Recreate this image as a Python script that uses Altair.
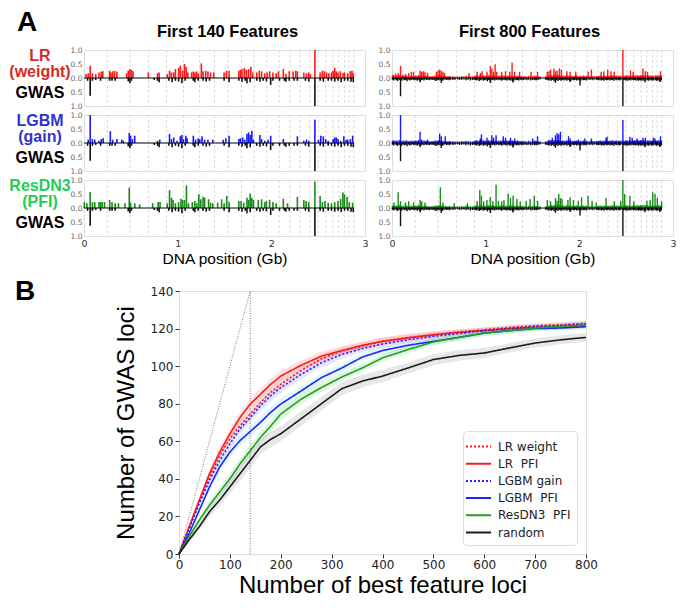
import altair as alt
import pandas as pd

# ------------------------------------------------------------------
# Panel A data  (positions in Mb along the genome, heights 0..1)
# ------------------------------------------------------------------
chrom_end_mb = [249, 492, 690, 882, 1063, 1234, 1393, 1539, 1680, 1816, 1951,
                2085, 2200, 2307, 2410, 2500, 2581, 2659, 2719, 2782, 2830, 2881]

lr140 = [(21, .14), (45, .17), (66, .44), (90, .17), (125, .14), (160, .20), (184, .23), (201, .24),
         (274, .26), (288, .20), (306, .24), (326, .26), (351, .23), (455, .17), (472, .26), (490, .32),
         (507, .29), (524, .24), (687, .20), (785, .17), (802, .20), (889, .14), (913, .26), (934, .20),
         (958, .20), (976, .32), (1010, .36), (1028, .44), (1052, .26), (1073, .50), (1090, .40),
         (1108, .20), (1149, .20), (1167, .23), (1184, .20), (1201, .24), (1219, .17), (1253, .52),
         (1271, .24), (1299, .26), (1323, .23), (1351, .20), (1385, .20), (1496, .20), (1521, .26),
         (1549, .26), (1653, .26), (1670, .29), (1687, .32), (1712, .36), (1733, .29), (1757, .32),
         (1781, .40), (1802, .20), (1844, .20), (1871, .26), (1896, .24), (1930, .17), (1955, .20),
         (1982, .24), (2017, .20), (2052, .17), (2076, .24), (2128, .32), (2156, .14), (2191, .24),
         (2232, .23), (2260, .26), (2278, .24), (2347, .20), (2375, .17), (2399, .20), (2417, .14),
         (2465, 1.0), (2521, .20), (2545, .26), (2566, .24), (2590, .20), (2614, .17), (2642, .20),
         (2660, .26), (2677, .36), (2694, .24), (2712, .20), (2736, .24), (2764, .18), (2781, .20),
         (2816, .17), (2844, .24), (2861, .26), (2875, .17)]

lgbm140 = [(45, .12), (66, 1.0), (90, .14), (115, .12), (160, .08), (184, .14), (205, .17), (281, .42),
           (306, .12), (351, .14), (403, .12), (420, .08), (483, .36), (497, .26), (517, .14), (542, .26),
           (785, .08), (809, .12), (913, .32), (934, .14), (958, .20), (993, .08), (1028, .24), (1045, .29),
           (1062, .14), (1087, .26), (1101, .17), (1167, .26), (1191, .12), (1219, .17), (1236, .14),
           (1260, .24), (1288, .12), (1323, .12), (1375, .12), (1486, .12), (1514, .17), (1549, .26),
           (1653, .14), (1670, .17), (1694, .20), (1715, .12), (1740, .32), (1757, .38), (1774, .29),
           (1792, .44), (1809, .12), (1878, .29), (1896, .14), (1930, .08), (1965, .12), (1993, .26),
           (2128, .14), (2278, .24), (2347, .08), (2375, .12), (2399, .08), (2465, .83), (2503, .12),
           (2528, .26), (2555, .24), (2580, .14), (2607, .08), (2660, .14), (2677, .20), (2694, .20),
           (2712, .14), (2740, .08), (2774, .24), (2798, .12), (2816, .12), (2844, .14), (2868, .26)]

res140 = [(3, .21), (31, .17), (66, .57), (90, .21), (115, .21), (160, .21), (177, .21), (194, .21),
          (219, .21), (274, .29), (299, .21), (333, .17), (368, .17), (437, .17), (483, .73), (497, .19),
          (542, .17), (594, .13), (733, .17), (792, .21), (812, .21), (889, .17), (913, .64), (934, .37),
          (951, .29), (976, .17), (1010, .21), (1035, .33), (1052, .29), (1073, .29), (1094, .81),
          (1115, .17), (1156, .21), (1184, .25), (1205, .17), (1226, .49), (1247, .31), (1271, .40),
          (1288, .37), (1330, .31), (1351, .19), (1375, .17), (1427, .19), (1469, .31), (1496, .17),
          (1524, .43), (1549, .21), (1653, .25), (1677, .25), (1705, .19), (1740, .37), (1757, .29),
          (1774, .52), (1792, .37), (1809, .29), (1861, .29), (1896, .31), (1930, .21), (1948, .25),
          (1982, .29), (2017, .21), (2052, .17), (2128, .33), (2173, .17), (2278, .40), (2347, .29),
          (2371, .25), (2399, .21), (2465, .95), (2521, .43), (2545, .21), (2573, .25), (2607, .19),
          (2642, .17), (2677, .21), (2712, .25), (2740, .33), (2764, .55), (2781, .49), (2809, .40),
          (2833, .21), (2868, .19)]

gwas140 = [(38, .10), (66, .63), (90, .10), (125, .07), (177, .10), (274, .10), (299, .10), (333, .10),
           (472, .12), (490, .19), (507, .10), (750, .07), (785, .10), (802, .15), (906, .10), (941, .15),
           (976, .10), (1010, .13), (1045, .19), (1080, .10), (1167, .10), (1184, .15), (1219, .10),
           (1271, .10), (1305, .13), (1340, .10), (1496, .10), (1549, .15), (1653, .10), (1687, .13),
           (1722, .10), (1740, .19), (1774, .15), (1844, .10), (1878, .13), (1913, .10), (1948, .12),
           (1993, .25), (2017, .10), (2087, .10), (2139, .10), (2156, .13), (2191, .10), (2243, .10),
           (2278, .10), (2364, .10), (2399, .13), (2465, 1.0), (2521, .10), (2555, .13), (2607, .10),
           (2642, .10), (2677, .13), (2712, .10), (2746, .15), (2781, .10), (2816, .10), (2851, .13),
           (2875, .15)]

# dense band of small features in the 800-feature runs: (Mb, feature h x100, GWAS h x100)
base800 = [
    (4, 8, 6), (18, 10, 9), (33, 7, 5), (47, 9, 8), (60, 6, 11), (76, 11, 7), (90, 8, 6), (104, 7, 10),
    (119, 9, 5), (133, 6, 8), (148, 10, 7), (161, 8, 12), (176, 7, 6), (190, 5, 9), (204, 9, 7),
    (219, 6, 5), (233, 8, 8), (245, 7, 6),
    (256, 9, 7), (270, 7, 10), (284, 11, 6), (299, 8, 12), (313, 10, 8), (327, 6, 6), (342, 9, 9),
    (356, 7, 5), (371, 8, 7), (385, 5, 6), (399, 6, 8), (414, 5, 5), (428, 7, 7), (443, 6, 6),
    (457, 8, 9), (471, 9, 11), (486, 7, 8),
    (498, 10, 6), (512, 8, 9), (527, 9, 7), (541, 7, 10), (555, 6, 6), (570, 8, 5), (584, 5, 7),
    (598, 6, 6), (613, 7, 8), (627, 5, 5), (650, 6, 7), (672, 5, 6),
    (700, 6, 5), (722, 5, 7), (745, 7, 6), (768, 6, 5), (790, 8, 8), (812, 7, 6), (836, 6, 9),
    (858, 5, 7), (876, 7, 6),
    (889, 8, 7), (903, 10, 9), (917, 7, 6), (932, 9, 11), (946, 11, 8), (960, 8, 6), (975, 10, 10),
    (989, 7, 7), (1003, 9, 8), (1018, 8, 12), (1032, 10, 7), (1046, 7, 9), (1058, 9, 6),
    (1070, 8, 8), (1084, 10, 6), (1098, 7, 9), (1113, 9, 7), (1127, 6, 5), (1141, 8, 8), (1156, 9, 6),
    (1170, 7, 10), (1184, 10, 7), (1199, 8, 6), (1213, 7, 8), (1228, 9, 9),
    (1241, 7, 6), (1255, 9, 8), (1269, 8, 10), (1284, 10, 7), (1298, 7, 12), (1312, 8, 6),
    (1327, 6, 8), (1341, 9, 7), (1355, 7, 9), (1370, 6, 6), (1386, 8, 8),
    (1402, 6, 7), (1420, 7, 6), (1440, 5, 8), (1460, 8, 6), (1482, 6, 9), (1503, 7, 7), (1522, 9, 8),
    (1535, 6, 6),
    (1546, 7, 8), (1560, 5, 6), (1580, 6, 5), (1640, 5, 6), (1655, 6, 7), (1670, 8, 9),
    (1687, 9, 8), (1701, 10, 10), (1716, 8, 7), (1730, 11, 12), (1744, 9, 9), (1759, 10, 8),
    (1773, 12, 11), (1787, 9, 7), (1802, 8, 10), (1812, 7, 6),
    (1823, 8, 7), (1837, 9, 9), (1851, 7, 6), (1866, 10, 10), (1880, 8, 7), (1894, 9, 8),
    (1909, 7, 11), (1923, 8, 6), (1937, 6, 8), (1947, 7, 7),
    (1958, 8, 6), (1972, 9, 9), (1986, 7, 8), (2001, 6, 7), (2015, 8, 10), (2029, 7, 6), (2044, 9, 8),
    (2058, 6, 7), (2072, 8, 9), (2081, 7, 6),
    (2105, 6, 7), (2125, 8, 6), (2145, 7, 8), (2165, 6, 5), (2185, 7, 7), (2196, 6, 6),
    (2207, 7, 8), (2221, 9, 6), (2235, 8, 9), (2250, 6, 7), (2264, 9, 10), (2278, 7, 6), (2293, 8, 8),
    (2303, 6, 7),
    (2314, 7, 6), (2328, 9, 9), (2342, 8, 7), (2357, 10, 8), (2371, 7, 10), (2385, 8, 6), (2400, 9, 8),
    (2417, 8, 7), (2431, 7, 9), (2445, 9, 6), (2472, 8, 8), (2486, 7, 7), (2496, 9, 9),
    (2507, 10, 8), (2521, 8, 10), (2535, 9, 7), (2550, 7, 9), (2564, 8, 6), (2577, 9, 8),
    (2588, 10, 7), (2602, 8, 9), (2617, 11, 8), (2631, 9, 10), (2645, 8, 7), (2655, 10, 9),
    (2666, 9, 8), (2680, 11, 10), (2694, 8, 7), (2708, 10, 9),
    (2726, 9, 8), (2740, 8, 10), (2754, 10, 7), (2768, 7, 9), (2779, 9, 8),
    (2795, 8, 9), (2815, 10, 8), (2826, 7, 10),
    (2837, 9, 8), (2851, 10, 9), (2865, 8, 11), (2876, 9, 8),
]

lr800 = [(10, .12), (38, .15), (66, .18), (91, .43), (115, .12), (143, .15), (178, .18), (206, .22),
         (230, .22), (300, .27), (317, .22), (334, .24), (352, .22), (380, .18), (474, .22), (491, .27),
         (509, .30), (526, .27), (544, .22), (561, .18), (822, .18), (909, .22), (944, .18), (962, .24),
         (1014, .22), (1049, .43), (1066, .34), (1084, .22), (1101, .49), (1118, .22), (1171, .22),
         (1212, .24), (1258, .22), (1282, .55), (1310, .22), (1362, .22), (1484, .22), (1554, .22),
         (1658, .22), (1676, .24), (1693, .30), (1728, .34), (1745, .24), (1763, .27), (1787, .34),
         (1808, .30), (1867, .24), (1902, .22), (1962, .22), (2094, .22), (2129, .30), (2233, .22),
         (2261, .24), (2303, .30), (2338, .24), (2373, .22), (2465, 1.0), (2547, .27), (2575, .22),
         (2679, .34), (2704, .24), (2728, .22), (2867, .24)]

lgbm800 = [(91, 1.0), (300, .40), (317, .12), (380, .12), (509, .34), (526, .24), (568, .24), (944, .16),
           (955, .31), (1014, .19), (1066, .28), (1084, .19), (1111, .28), (1188, .24), (1212, .19),
           (1265, .19), (1310, .16), (1502, .16), (1554, .24), (1676, .12), (1711, .19), (1745, .28),
           (1763, .36), (1780, .31), (1798, .40), (1885, .24), (1902, .16), (1989, .12), (2059, .16),
           (2129, .16), (2285, .19), (2296, .22), (2465, .82), (2540, .22), (2564, .19), (2616, .16),
           (2679, .19), (2704, .19), (2791, .19), (2808, .16), (2867, .24)]

res800 = [(21, .20), (66, .56), (91, .24), (143, .20), (178, .24), (230, .20), (300, .29), (317, .24),
          (352, .20), (516, .74), (544, .20), (665, .17), (805, .17), (909, .24), (937, .64), (955, .44),
          (979, .24), (1014, .29), (1049, .38), (1077, .24), (1111, .83), (1136, .26), (1171, .24),
          (1195, .29), (1240, .52), (1265, .36), (1293, .44), (1334, .32), (1369, .24), (1432, .26),
          (1474, .32), (1519, .44), (1554, .26), (1658, .29), (1693, .24), (1745, .36), (1763, .26),
          (1780, .50), (1798, .36), (1815, .32), (1878, .29), (1902, .38), (1937, .29), (1989, .26),
          (2024, .38), (2094, .44), (2136, .26), (2181, .20), (2285, .36), (2373, .24), (2442, .26),
          (2465, 1.0), (2484, .50), (2540, .44), (2582, .24), (2721, .26), (2756, .29), (2784, .56),
          (2808, .50), (2833, .36), (2878, .24)]

gwas800 = [(91, .65), (300, .15), (526, .18), (1049, .18), (1290, .16), (1745, .17), (1900, .14),
           (2007, .27), (2465, 1.0), (2700, .15), (2860, .14)]

# ------------------------------------------------------------------
# Panel B data
# ------------------------------------------------------------------
n_best = [0, 20, 40, 60, 80, 100, 120, 140, 160, 180, 200, 240, 280, 320, 360, 400, 450, 500,
          550, 600, 650, 700, 750, 800]
lr_weight = [0, 13.7, 27.8, 41.0, 52.5, 61.3, 68.3, 74.5, 80.6, 86.0, 90.3, 97.7, 104.0, 108.0,
             110.6, 113.2, 115.3, 116.7, 118.2, 119.4, 120.6, 121.5, 122.0, 122.7]
lr_pfi = [0, 14.6, 28.7, 42.8, 54.2, 63.9, 72.7, 79.8, 85.0, 90.3, 94.7, 100.5, 105.3, 108.3,
          111.1, 113.2, 115.0, 116.7, 118.0, 118.9, 120.0, 120.6, 121.0, 121.5]
lgbm_gain = [0, 13.7, 27.0, 39.3, 49.8, 58.6, 66.6, 72.7, 78.9, 84.2, 88.6, 95.6, 101.8, 106.2,
             109.4, 111.8, 114.1, 115.9, 117.4, 118.9, 120.0, 121.0, 121.7, 122.5]
lgbm_pfi = [0, 11.0, 23.4, 35.7, 46.3, 54.2, 60.4, 65.2, 70.0, 75.4, 79.8, 86.8, 93.9, 99.0,
            104.8, 108.3, 111.1, 113.2, 115.3, 117.6, 118.9, 120.0, 120.3, 121.0]
resdn3_pfi = [0, 9.3, 18.0, 26.0, 33.0, 40.0, 48.0, 55.0, 62.0, 68.0, 74.5, 82.4, 88.6, 94.2,
              99.0, 104.4, 108.8, 112.9, 115.3, 117.6, 118.9, 120.3, 121.1, 122.0]
random_sel = [0, 7.6, 14.6, 22.5, 28.7, 35.7, 42.8, 49.8, 57.0, 61.0, 64.0, 72.0, 80.0, 88.0,
              92.0, 94.7, 99.0, 103.5, 105.7, 107.0, 109.7, 112.3, 114.0, 115.3]
sd_model = [0, 1.0, 1.5, 2.0, 2.5, 3.0, 3.0, 3.0, 3.0, 3.0, 3.0, 2.5, 2.5, 2.2, 2.0, 2.0, 2.0,
            1.8, 1.6, 1.5, 1.5, 1.5, 1.5, 1.5]
sd_random = [0, 1.2, 2.0, 2.5, 3.0, 3.5, 3.8, 4.0, 4.0, 4.0, 4.0, 3.8, 3.6, 3.5, 3.4, 3.2, 3.0,
             3.0, 2.8, 2.6, 2.5, 2.5, 2.4, 2.3]

NB2 = '\u00a0\u00a0'  # the legend keeps a double space between model and method
series_order = ['LR weight', 'LR' + NB2 + 'PFI', 'LGBM gain', 'LGBM' + NB2 + 'PFI',
                'ResDN3' + NB2 + 'PFI', 'random']
series_vals = [lr_weight, lr_pfi, lgbm_gain, lgbm_pfi, resdn3_pfi, random_sel]
series_sd = [sd_model, sd_model, sd_model, sd_model, sd_model, sd_random]

# ------------------------------------------------------------------
# helpers
# ------------------------------------------------------------------
LAB_FONT = 'Liberation Sans'
TICK_FONT = 'DejaVu Sans'
W_A, H_A = 281, 56
W_B, H_B = 407, 263

chrom_df = pd.DataFrame({'gb': [m / 1000 for m in chrom_end_mb]})
zero_df = pd.DataFrame({'gb': [0.0], 'gb2': [chrom_end_mb[-1] / 1000], 'v': [0.0]})
one_df = pd.DataFrame({'k': [0]})


def up_df(pairs):
    return pd.DataFrame({'gb': [p[0] / 1000 for p in pairs], 'v': [p[1] for p in pairs]})


def down_df(pairs):
    return pd.DataFrame({'gb': [p[0] / 1000 for p in pairs], 'v': [-p[1] for p in pairs]})


def text_layer(txt, x, y, size, color='black', weight='bold', align='center', baseline='middle'):
    return alt.Chart(one_df).mark_text(
        text=txt, font=LAB_FONT, fontSize=size, fontWeight=weight, color=color,
        align=align, baseline=baseline).encode(x=alt.value(x), y=alt.value(y))


def strip(up, down, color, bottom, bw, label=None, title=None, title_dx=0, letter=None):
    xs = alt.Scale(domain=[0, 3], nice=False, zero=False)
    ys = alt.Scale(domain=[-1, 1], nice=False)
    if bottom:
        xax = alt.Axis(values=[0, 1, 2, 3], format='d', labelFlush=False, ticks=False, domain=False,
                       grid=False, labelFont=TICK_FONT, labelFontSize=9.5, labelColor='#333',
                       labelPadding=2, title='DNA position (Gb)', titleFont=LAB_FONT,
                       titleFontSize=15.5, titleFontWeight='normal', titleColor='black',
                       titlePadding=4)
    else:
        xax = None
    yax = alt.Axis(values=[-1, -0.5, 0, 0.5, 1], labelExpr="format(abs(datum.value), '.1f')",
                   ticks=False, domain=False, grid=False, labelFont=TICK_FONT, labelFontSize=7.5,
                   labelColor='#666', labelPadding=2, title=None)
    X = lambda f: alt.X(f, scale=xs, axis=xax)
    Y = lambda f: alt.Y(f, scale=ys, axis=yax)

    vlines = alt.Chart(chrom_df).mark_rule(color='#d0d0d0', strokeDash=[3, 2], strokeWidth=0.8).encode(
        x=X('gb:Q'))
    ups = alt.Chart(up).mark_rule(color=color, strokeWidth=bw, opacity=0.9).encode(
        x=X('gb:Q'), y=Y('v:Q'), y2=alt.datum(0))
    downs = alt.Chart(down).mark_rule(color='#111111', strokeWidth=bw).encode(
        x=X('gb:Q'), y=Y('v:Q'), y2=alt.datum(0))
    zero = alt.Chart(zero_df).mark_rule(color='black', strokeWidth=1).encode(
        x=X('gb:Q'), x2='gb2:Q', y=Y('v:Q'))
    layers = [vlines, ups, downs, zero]
    if label is not None:
        l1, l2, lc = label
        layers.append(text_layer(l1, -44, 6, 16, lc))
        layers.append(text_layer(l2, -44, 21.5, 16, lc))
        layers.append(text_layer('GWAS', -44, 43, 16))
    if title is not None:
        layers.append(text_layer(title, W_A / 2 + title_dx, -18, 16.5))
    if letter is not None:
        layers.append(text_layer(letter, -67, -27, 28, align='left', baseline='middle'))
    return alt.layer(*layers).properties(width=W_A, height=H_A)


models = [
    ('LR', '(weight)', '#d62a2a', '#ff0000', lr140, lr800),
    ('LGBM', '(gain)', '#3333cc', '#0000ff', lgbm140, lgbm800),
    ('ResDN3', '(PFI)', '#22cc55', '#008000', res140, res800),
]

left_cells, right_cells = [], []
for i, (l1, l2, lc, bc, d140, d800) in enumerate(models):
    bottom = i == 2
    left_cells.append(strip(up_df(d140), down_df(gwas140), bc, bottom, 1.6,
                            label=(l1, l2, lc),
                            title='First 140 Features' if i == 0 else None, title_dx=3,
                            letter='A' if i == 0 else None))
    up800 = [(b[0], b[1] / 100) for b in base800] + d800
    dn800 = [(b[0], b[2] / 100) for b in base800] + gwas800
    right_cells.append(strip(up_df(up800), down_df(dn800), bc, bottom, 1.4,
                             title='First 800 Features' if i == 0 else None, title_dx=-3))

colL = alt.vconcat(*left_cells, spacing=0)
colR = alt.vconcat(*right_cells, spacing=0)
rowA = alt.hconcat(colL, colR, spacing=8)

# ------------------------------------------------------------------
# Panel B
# ------------------------------------------------------------------
rows = []
for name, vals, sd in zip(series_order, series_vals, series_sd):
    for n, v, s in zip(n_best, vals, sd):
        rows.append({'series': name, 'n': n, 'y': v, 'lo': v - s, 'hi': v + s})
bdf = pd.DataFrame(rows)

line_colors = ['#ff1a1a', '#ff1a1a', '#2222ff', '#2222ff', '#22a022', '#1a1a1a']
band_colors = ['#ff8888', '#ff6666', '#8888ff', '#66dddd', '#66cc66', '#888888']
dashes = [[2, 2], [1, 0], [2, 2], [1, 0], [1, 0], [1, 0]]

xsB = alt.Scale(domain=[0, 800], nice=False)
ysB = alt.Scale(domain=[0, 140], nice=False)
xaxB = alt.Axis(values=list(range(0, 801, 100)), grid=False, domain=False, tickColor='#333',
                tickSize=4, labelFont=TICK_FONT, labelFontSize=12, labelColor='#222', labelPadding=1,
                labelFlush=False, title='Number of best feature loci', titleFont=LAB_FONT,
                titleFontSize=24, titleFontWeight='normal', titleColor='black', titlePadding=3)
yaxB = alt.Axis(values=list(range(0, 141, 20)), grid=False, domain=False, tickColor='#333',
                tickSize=4, labelFont=TICK_FONT, labelFontSize=12, labelColor='#222', labelPadding=2,
                title='Number of GWAS loci', titleFont=LAB_FONT, titleFontSize=24,
                titleFontWeight='normal', titleColor='black', titlePadding=12)
XB = lambda f: alt.X(f, scale=xsB, axis=xaxB)
YB = lambda f: alt.Y(f, scale=ysB, axis=yaxB)

leg = alt.Legend(title=None, orient='bottom-right', offset=9, symbolType='M-1.5,0H1.5',
                 symbolSize=280, symbolStrokeWidth=2, labelFont=TICK_FONT, labelFontSize=12,
                 labelColor='#222', rowPadding=1.2, labelOffset=10, padding=6, fillColor='white',
                 strokeColor='#dddddd', cornerRadius=4)

band_layers = []
for name, bc in zip(series_order, band_colors):
    band_layers.append(alt.Chart(bdf[bdf['series'] == name]).mark_area(opacity=0.2, color=bc).encode(
        x=XB('n:Q'), y=YB('lo:Q'), y2='hi:Q'))
diag = alt.Chart(pd.DataFrame({'n': [0, 140], 'y': [0, 140]})).mark_line(
    color='#777', strokeDash=[1, 1.5], strokeWidth=1).encode(x=XB('n:Q'), y=YB('y:Q'))
vrule = alt.Chart(pd.DataFrame({'n': [140], 'y': [0], 'y2': [140]})).mark_rule(
    color='#777', strokeDash=[1, 1.5], strokeWidth=1).encode(x=XB('n:Q'), y=YB('y:Q'), y2='y2:Q')
lines = alt.Chart(bdf).mark_line(strokeWidth=1.6).encode(
    x=XB('n:Q'), y=YB('y:Q'),
    color=alt.Color('series:N', scale=alt.Scale(domain=series_order, range=line_colors), legend=leg),
    strokeDash=alt.StrokeDash('series:N', scale=alt.Scale(domain=series_order, range=dashes), legend=leg))

chartB = alt.layer(*band_layers, diag, vrule, lines).properties(width=W_B, height=H_B)

# narrow spacer carrying the panel letter, so that panel B can sit to the right of panel A's origin
spacerB = text_layer('B', -69, -13, 28, align='left', baseline='top').properties(
    width=1, height=H_B, view=alt.ViewBackground(stroke='transparent'))

rowB = alt.hconcat(spacerB, chartB, spacing=27).resolve_scale(
    color='independent', strokeDash='independent').resolve_legend(
    color='independent', strokeDash='independent')

chart = alt.vconcat(rowA, rowB, spacing=9, padding={'left': 0, 'top': 0, 'right': 0, 'bottom': 0}
                    ).resolve_scale(color='independent', strokeDash='independent'
                    ).resolve_legend(color='independent', strokeDash='independent'
                    ).configure_view(stroke='#999999', strokeWidth=1).configure(background='white')

chart.save("out.html", embed_options={"renderer": "svg", "actions": False})
